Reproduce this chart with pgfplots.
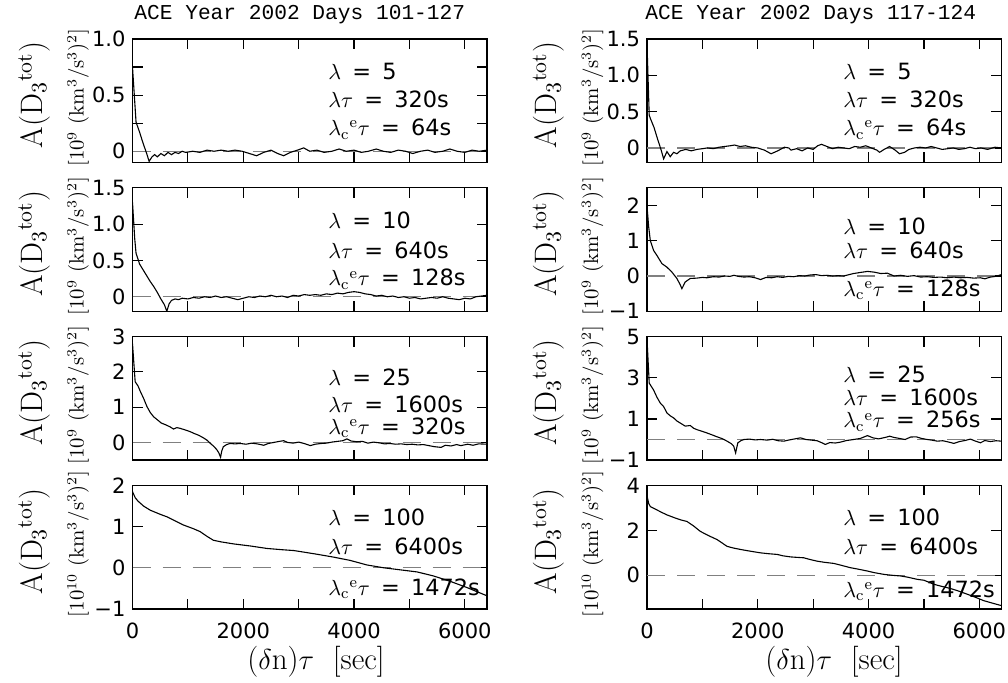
\documentclass[border=0pt]{standalone}
\usepackage{fontspec}
\setsansfont{DejaVu Sans}
\newfontfamily\titlefont{Liberation Mono}
\usepackage{pgfplots}
\pgfplotsset{compat=1.18}
\newcommand{\tk}{\sffamily\fontsize{10.5}{12}\selectfont}
\newcommand{\an}{\sffamily\fontsize{11.2}{13}\selectfont}
\newcommand{\eq}{\hspace{0.5em}=\hspace{0.5em}}
\newcommand{\lce}{$\lambda_{\mathrm{c}}{}^{\mathrm{e}}\tau$}
\newcommand{\biglab}{\fontsize{15.5}{18}\selectfont A(D$_3{}^{\mathrm{tot}}$)}
\newcommand{\smlA}{\fontsize{10.4}{12}\selectfont [10$^9$ (km$^3$/s$^3$)$^2$]}
\newcommand{\smlB}{\fontsize{10.4}{12}\selectfont [10$^{10}$ (km$^3$/s$^3$)$^2$]}
\pgfplotsset{panel/.style={scale only axis, width=177.25pt, height=61.75pt,
  anchor=south west, xmin=0, xmax=6400,
  xtick={0,2000,4000,6000}, minor xtick={1000,3000,5000},
  tick align=inside, major tick length=5pt, minor tick length=5pt,
  axis line style={line width=0.6pt},
  every tick/.style={black, line width=0.6pt},
  tick label style={font=\tk},
  xticklabel style={yshift=-3.5pt},
  xticklabels={}},
  curve/.style={black, line width=0.55pt},
  zero/.style={gray, line width=0.6pt, dash pattern=on 9pt off 6pt}}
\begin{document}
\begin{tikzpicture}
\useasboundingbox (0,0) rectangle (504pt,341.5pt);
% titles
\node[anchor=base west, inner sep=0, font=\titlefont\fontsize{10.6}{12}\selectfont] at (67pt,331.5pt) {ACE Year 2002 Days 101-127};
\node[anchor=base west, inner sep=0, font=\titlefont\fontsize{10.6}{12}\selectfont] at (322.5pt,331.5pt) {ACE Year 2002 Days 117-124};

% ---------------- LEFT COLUMN ----------------
\begin{axis}[panel, at={(66.25pt,260.25pt)}, ymin=-0.1, ymax=1.0,
  ytick={0,0.25,0.5,0.75,1}, yticklabels={0,,0.5,,1.0}]
\addplot[zero] coordinates {(0,0) (6400,0)};
\addplot[curve] coordinates {(0,0.75) (64,0.26) (128,0.17) (192,0.07) (256,-0.02) (300,-0.09) (352,-0.05) (400,-0.03) (448,-0.05) (512,-0.02) (576,-0.04) (640,-0.01) (704,-0.03) (768,-0.01) (832,-0.02) (896,0.0) (960,-0.01) (1088,0.0) (1216,-0.01) (1344,0.01) (1472,0.0) (1600,0.01) (1728,0.0) (1850,0.01) (1980,0.0) (2110,-0.02) (2240,-0.04) (2370,-0.01) (2500,0.01) (2620,-0.02) (2730,-0.04) (2850,-0.01) (2980,0.01) (3090,0.03) (3200,0.0) (3330,0.01) (3460,-0.01) (3600,0.0) (3730,0.02) (3860,0.0) (4000,0.01) (4130,-0.01) (4260,0.0) (4400,0.02) (4530,0.0) (4660,-0.01) (4800,0.01) (4930,0.0) (5060,-0.02) (5200,0.0) (5330,0.01) (5460,-0.01) (5600,0.0) (5730,0.02) (5860,0.0) (6000,-0.01) (6130,0.01) (6260,0.0) (6400,0.01)};
\end{axis}

\begin{axis}[panel, at={(66.25pt,185.85pt)}, ymin=-0.2, ymax=1.5,
  ytick={0,0.5,1,1.5}, yticklabels={0,0.5,1.0,1.5}]
\addplot[zero] coordinates {(0,0) (6400,0)};
\addplot[curve] coordinates {(0,1.3) (40,0.8) (64,0.6) (128,0.45) (192,0.37) (256,0.29) (320,0.21) (384,0.14) (448,0.06) (512,-0.03) (576,-0.11) (620,-0.2) (660,-0.1) (704,-0.05) (768,-0.03) (832,-0.04) (896,-0.02) (1000,-0.03) (1100,-0.01) (1200,-0.02) (1300,0.0) (1400,-0.01) (1500,0.01) (1600,-0.01) (1700,0.0) (1800,-0.02) (1900,-0.04) (2000,-0.02) (2100,0.0) (2200,-0.01) (2300,0.01) (2400,0.0) (2500,0.02) (2600,0.0) (2700,0.01) (2800,-0.01) (2900,0.02) (3000,0.01) (3100,0.03) (3200,0.02) (3300,0.03) (3400,0.02) (3500,0.04) (3600,0.03) (3700,0.05) (3800,0.04) (3900,0.06) (4000,0.07) (4100,0.06) (4200,0.04) (4300,0.03) (4400,0.01) (4500,0.02) (4600,0.0) (4700,0.01) (4800,-0.01) (4900,0.0) (5000,-0.02) (5100,-0.01) (5200,-0.03) (5300,-0.02) (5400,-0.01) (5500,-0.02) (5600,0.0) (5700,-0.02) (5800,-0.03) (5900,-0.04) (6000,-0.02) (6100,-0.03) (6200,0.0) (6300,0.01) (6400,0.02)};
\end{axis}

\begin{axis}[panel, at={(66.25pt,111.45pt)}, ymin=-0.5, ymax=3,
  ytick={0,1,2,3}, yticklabels={0,1,2,3}]
\addplot[zero] coordinates {(0,0) (6400,0)};
\addplot[curve] coordinates {(0,2.8) (48,1.72) (100,1.6) (140,1.45) (200,1.25) (260,1.02) (320,0.85) (380,0.73) (450,0.64) (520,0.55) (600,0.5) (680,0.44) (740,0.38) (800,0.42) (860,0.4) (920,0.37) (980,0.34) (1050,0.3) (1120,0.25) (1200,0.2) (1280,0.13) (1340,0.07) (1400,-0.02) (1460,-0.1) (1520,-0.2) (1560,-0.3) (1590,-0.42) (1610,-0.25) (1640,-0.12) (1700,-0.06) (1760,-0.03) (1850,-0.04) (1950,-0.03) (2050,-0.05) (2150,-0.02) (2250,-0.04) (2370,-0.08) (2450,-0.03) (2550,0.0) (2650,0.03) (2730,0.05) (2800,0.0) (2900,-0.02) (3000,0.01) (3100,-0.03) (3210,-0.09) (3300,-0.05) (3400,-0.03) (3500,-0.02) (3600,0.01) (3700,0.03) (3800,0.05) (3870,0.1) (3950,0.04) (4050,0.02) (4150,0.03) (4250,-0.02) (4350,0.01) (4450,-0.01) (4550,-0.04) (4650,-0.03) (4750,-0.05) (4850,-0.04) (4950,-0.06) (5050,-0.05) (5150,-0.07) (5250,-0.06) (5350,-0.09) (5450,-0.12) (5570,-0.14) (5650,-0.08) (5750,-0.1) (5850,-0.06) (5930,-0.09) (6050,-0.05) (6150,-0.08) (6250,-0.04) (6400,-0.05)};
\end{axis}

\begin{axis}[panel, at={(66.25pt,37pt)}, ymin=-1, ymax=2,
  ytick={-1,0,1,2}, yticklabels={−1,0,1,2}, xticklabels={0,2000,4000,6000}]
\addplot[zero] coordinates {(0,0) (6400,0)};
\addplot[curve] coordinates {(0,1.85) (50,1.7) (100,1.62) (200,1.5) (320,1.4) (500,1.3) (620,1.24) (800,1.12) (920,1.04) (1100,0.95) (1220,0.88) (1350,0.76) (1460,0.67) (1600,0.63) (1830,0.58) (2130,0.53) (2430,0.47) (2700,0.44) (2910,0.42) (3100,0.38) (3330,0.33) (3630,0.26) (3930,0.18) (4230,0.07) (4540,0.0) (4840,-0.05) (5140,-0.1) (5440,-0.2) (5740,-0.33) (6040,-0.48) (6400,-0.68)};
\end{axis}

% ---------------- RIGHT COLUMN ----------------
\begin{axis}[panel, at={(323.5pt,260.25pt)}, ymin=-0.2, ymax=1.5,
  ytick={0,0.5,1,1.5}, yticklabels={0,0.5,1.0,1.5}]
\addplot[zero] coordinates {(0,0) (6400,0)};
\addplot[curve] coordinates {(0,1.44) (40,0.45) (64,0.4) (128,0.28) (192,0.12) (256,-0.03) (300,-0.15) (360,-0.05) (420,-0.12) (480,-0.06) (540,-0.08) (600,-0.04) (700,-0.02) (800,-0.04) (900,-0.02) (1000,-0.01) (1090,0.0) (1200,-0.01) (1300,0.01) (1400,0.02) (1500,0.03) (1580,0.04) (1680,0.02) (1780,0.03) (1880,0.01) (2000,0.0) (2120,-0.03) (2240,-0.08) (2360,-0.04) (2480,0.01) (2560,0.0) (2600,-0.03) (2700,-0.01) (2800,-0.04) (2900,0.0) (3000,-0.02) (3080,0.03) (3150,0.05) (3250,0.02) (3350,-0.01) (3450,0.01) (3550,0.0) (3650,-0.01) (3750,0.02) (3850,0.01) (3950,0.03) (4050,0.0) (4150,-0.03) (4200,-0.06) (4280,-0.02) (4380,0.02) (4480,-0.03) (4560,-0.08) (4650,-0.06) (4730,-0.02) (4830,0.0) (4930,0.01) (5030,0.0) (5130,0.02) (5230,0.0) (5330,-0.02) (5430,-0.01) (5530,0.0) (5630,-0.02) (5730,-0.01) (5830,0.01) (5930,-0.01) (6030,0.0) (6150,-0.02) (6280,0.01) (6400,0.0)};
\end{axis}

\begin{axis}[panel, at={(323.5pt,185.85pt)}, ymin=-1, ymax=2.5,
  ytick={-1,0,1,2}, yticklabels={−1,0,1,2}]
\addplot[zero] coordinates {(0,0) (6400,0)};
\addplot[curve] coordinates {(0,1.98) (30,1.4) (60,1.0) (120,0.72) (180,0.58) (270,0.35) (360,0.25) (450,0.11) (540,-0.07) (600,-0.25) (630,-0.36) (690,-0.17) (780,-0.07) (900,-0.06) (1000,-0.04) (1080,-0.05) (1200,-0.02) (1300,-0.03) (1400,0.0) (1500,-0.01) (1570,0.02) (1650,-0.01) (1750,-0.03) (1850,-0.02) (1950,-0.05) (2050,-0.1) (2150,-0.04) (2250,-0.05) (2350,-0.02) (2450,-0.04) (2550,-0.01) (2650,-0.02) (2750,0.01) (2850,0.0) (2950,0.03) (3050,0.04) (3150,0.01) (3250,0.02) (3350,0.0) (3450,0.01) (3550,0.0) (3650,0.04) (3730,0.07) (3850,0.1) (3980,0.13) (4100,0.11) (4220,0.07) (4340,0.08) (4460,0.0) (4580,0.02) (4700,-0.01) (4820,0.01) (4940,-0.03) (5060,-0.02) (5180,-0.04) (5300,-0.03) (5420,-0.05) (5540,-0.03) (5660,-0.05) (5780,-0.04) (5900,-0.06) (6020,-0.05) (6100,-0.08) (6200,-0.03) (6300,-0.01) (6400,0.04)};
\end{axis}

\begin{axis}[panel, at={(323.5pt,111.45pt)}, ymin=-1, ymax=5,
  ytick={-1,1,3,5}, yticklabels={−1,1,3,5}]
\addplot[zero] coordinates {(0,0) (6400,0)};
\addplot[curve] coordinates {(0,4.9) (40,2.74) (120,2.4) (180,2.05) (240,1.77) (300,1.6) (360,1.29) (420,1.15) (480,1.05) (540,0.9) (600,0.8) (690,0.65) (780,0.68) (840,0.55) (900,0.48) (990,0.4) (1080,0.32) (1170,0.23) (1265,0.13) (1350,0.05) (1445,-0.08) (1520,-0.2) (1565,-0.32) (1600,-0.65) (1640,-0.16) (1700,-0.05) (1750,0.0) (1850,0.02) (1950,-0.02) (2050,0.0) (2170,-0.03) (2270,0.01) (2370,-0.06) (2470,-0.08) (2570,-0.02) (2670,0.03) (2770,0.08) (2870,0.0) (2970,-0.03) (3070,-0.06) (3150,-0.15) (3220,-0.24) (3300,-0.15) (3400,-0.17) (3490,-0.13) (3600,-0.05) (3730,0.0) (3850,0.05) (3980,0.19) (4080,0.08) (4180,0.03) (4300,0.1) (4380,0.16) (4460,0.1) (4560,0.05) (4660,0.0) (4760,0.12) (4860,0.13) (4960,0.05) (5060,0.0) (5140,-0.03) (5240,-0.08) (5340,-0.06) (5440,-0.12) (5540,-0.19) (5640,-0.1) (5740,-0.05) (5840,0.02) (5930,-0.08) (6020,-0.16) (6100,-0.05) (6200,-0.1) (6300,-0.06) (6400,-0.08)};
\end{axis}

\begin{axis}[panel, at={(323.5pt,37pt)}, ymin=-1.5, ymax=4,
  ytick={0,2,4}, yticklabels={0,2,4}, xticklabels={0,2000,4000,6000}]
\addplot[zero] coordinates {(0,0) (6400,0)};
\addplot[curve] coordinates {(0,3.55) (30,3.2) (60,3.06) (150,2.95) (250,2.82) (360,2.69) (500,2.56) (620,2.46) (720,2.4) (840,2.2) (960,1.96) (1100,1.78) (1265,1.59) (1350,1.45) (1445,1.29) (1550,1.22) (1690,1.15) (1850,1.08) (2050,1.0) (2200,0.96) (2350,0.93) (2450,0.87) (2590,0.82) (2700,0.8) (2830,0.78) (2950,0.7) (3070,0.63) (3200,0.58) (3370,0.53) (3500,0.45) (3670,0.34) (3800,0.28) (3980,0.19) (4100,0.12) (4280,0.04) (4430,0.0) (4580,-0.03) (4700,-0.08) (4880,-0.18) (5000,-0.22) (5180,-0.4) (5300,-0.48) (5480,-0.59) (5600,-0.68) (5780,-0.84) (5900,-0.95) (6080,-1.13) (6250,-1.25) (6400,-1.35)};
\end{axis}

% ---------------- y labels ----------------
\foreach \yy in {294, 219.6, 145.2, 70.8}{
  \node[rotate=90, inner sep=0] at (17pt,\yy pt) {\biglab};
  \node[rotate=90, inner sep=0] at (274.25pt,\yy pt) {\biglab};
}
\foreach \yy in {292.75, 218.35, 143.95}{
  \node[rotate=90, inner sep=0] at (39pt,\yy pt) {\smlA};
  \node[rotate=90, inner sep=0] at (296.25pt,\yy pt) {\smlA};
}
\node[rotate=90, inner sep=0] at (39pt,69.55pt) {\smlB};
\node[rotate=90, inner sep=0] at (296.25pt,69.55pt) {\smlB};

% ---------------- annotations ----------------
\begin{scope}[every node/.style={anchor=base west, inner sep=0, font=\an}]
% left
\node at (164pt,301.5pt) {$\lambda$\eq 5};
\node at (164pt,287.8pt) {$\lambda\tau$\eq 320s};
\node at (164pt,273.6pt) {\lce\eq 64s};
\node at (164pt,227.3pt) {$\lambda$\eq 10};
\node at (164pt,212.3pt) {$\lambda\tau$\eq 640s};
\node at (164pt,198.5pt) {\lce\eq 128s};
\node at (164pt,148.8pt) {$\lambda$\eq 25};
\node at (164pt,135.3pt) {$\lambda\tau$\eq 1600s};
\node at (164pt,124.3pt) {\lce\eq 320s};
\node at (164pt,78.5pt) {$\lambda$\eq 100};
\node at (164pt,64.4pt) {$\lambda\tau$\eq 6400s};
\node at (164pt,43.8pt) {\lce\eq 1472s};
% right
\node at (421.5pt,301.5pt) {$\lambda$\eq 5};
\node at (421.5pt,287.8pt) {$\lambda\tau$\eq 320s};
\node at (421.5pt,273.6pt) {\lce\eq 64s};
\node at (421.5pt,224.3pt) {$\lambda$\eq 10};
\node at (421.5pt,212.3pt) {$\lambda\tau$\eq 640s};
\node at (421.5pt,193.3pt) {\lce\eq 128s};
\node at (421.5pt,150pt) {$\lambda$\eq 25};
\node at (421.5pt,138.5pt) {$\lambda\tau$\eq 1600s};
\node at (421.5pt,127.5pt) {\lce\eq 256s};
\node at (421.5pt,78.6pt) {$\lambda$\eq 100};
\node at (421.5pt,64.4pt) {$\lambda\tau$\eq 6400s};
\node at (421.5pt,42.8pt) {\lce\eq 1472s};
\end{scope}

% x labels
\node[inner sep=0, font=\fontsize{15.5}{18}\selectfont] at (158pt,10.75pt) {($\delta$n)$\tau$\ \ [sec]};
\node[inner sep=0, font=\fontsize{15.5}{18}\selectfont] at (417pt,10.75pt) {($\delta$n)$\tau$\ \ [sec]};
\end{tikzpicture}
\end{document}
